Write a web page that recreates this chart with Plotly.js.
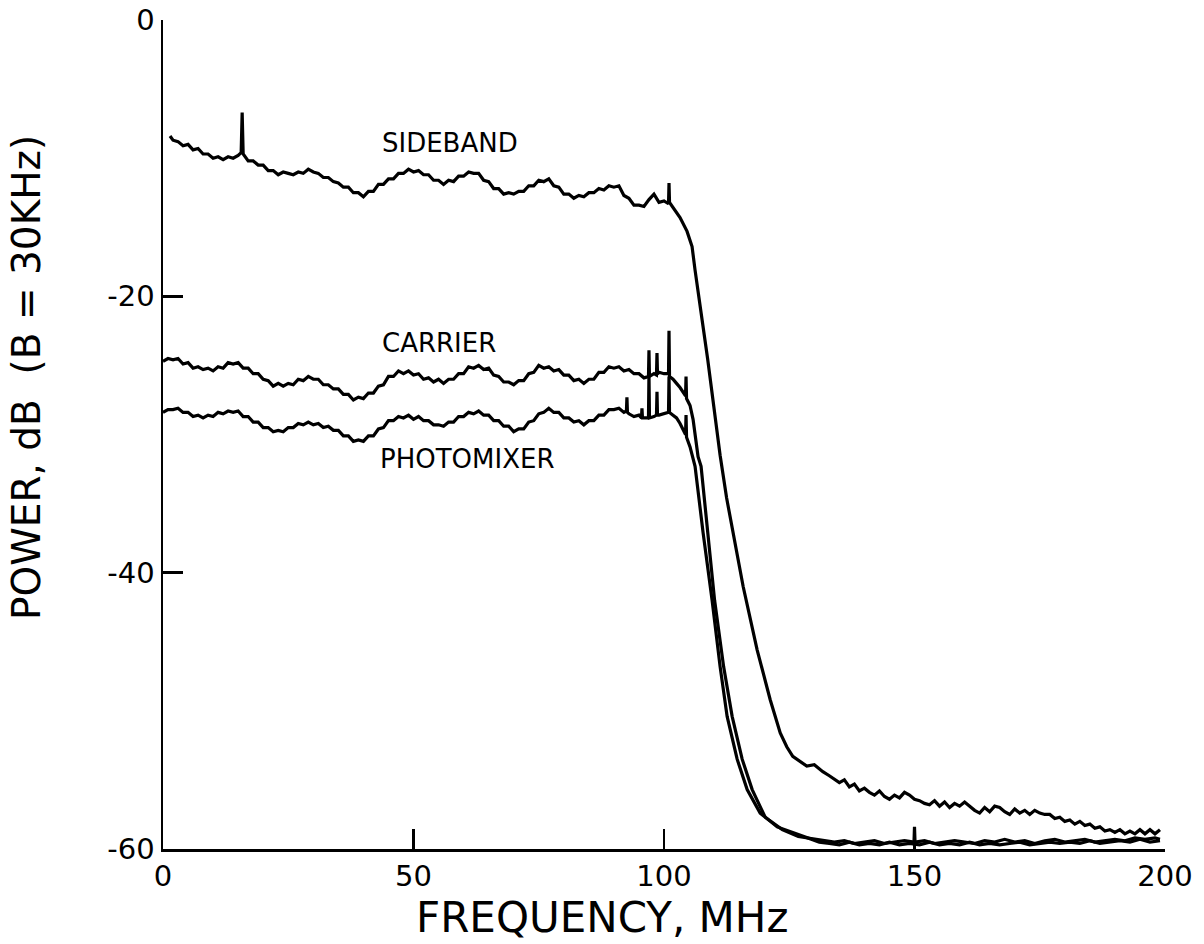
<!DOCTYPE html>
<html>
<head>
<meta charset="utf-8">
<script src="https://cdn.plot.ly/plotly-3.0.1.min.js"></script>
<style>html,body{margin:0;padding:0;background:#fff;}#chart{width:1204px;height:944px;}</style>
</head>
<body>
<div id="chart"></div>
<script>
// ---- Data ----
const sidebandFreq = [1.4,2,3,4,5,6,7,8,9,10,11,12,13,14,15,15.6,15.8,16.0,17,18,19,20,21,22,23,24,25,26,27,28,29,30,31,32,33,34,35,36,37,38,39,40,41,42,43,44,45,46,47,48,49,50,51,52,53,54,55,56,57,58,59,60,61,62,63,64,65,66,67,68,69,70,71,72,73,74,75,76,77,78,79,80,81,82,83,84,85,86,87,88,89,90,91,92,93,94,95,96,97,98,99,100,100.9,101.0,101.1,102,103.2,104.6,105.6,106.2,106.8,107.6,108.7,109.8,111.2,112.5,113.8,115.8,118.6,121.2,123.2,124.5,125.7,127,128.5,130,131.7,133,135,136,137,138,139,140,141,142,143,144,145,146,147,148,149,150,151,152,153,154,155,156,157,158,159,160,161,162,163,164,165,166,167,168,169,170,171,172,173,174,175,176,177,178,179,180,181,182,183,184,185,186,187,188,189,190,191,192,193,194,195,196,197,198,199];
const sidebandPower = [-8.4,-8.7,-8.8,-9.1,-9.0,-9.4,-9.3,-9.7,-9.7,-10.0,-9.9,-10.1,-9.9,-10.0,-9.8,-9.6,-6.7,-9.7,-10.2,-10.2,-10.5,-10.5,-10.9,-10.9,-11.2,-11.0,-11.1,-11.2,-11.0,-11.1,-10.8,-11.0,-11.1,-11.4,-11.4,-11.7,-11.8,-12.1,-12.1,-12.5,-12.5,-12.8,-12.4,-12.4,-11.9,-11.9,-11.5,-11.5,-11.1,-11.1,-10.8,-11.0,-10.9,-11.2,-11.2,-11.6,-11.6,-11.9,-11.6,-11.7,-11.3,-11.3,-11.0,-11.1,-11.1,-11.6,-11.7,-12.2,-12.2,-12.6,-12.5,-12.6,-12.4,-12.4,-12.0,-12.0,-11.6,-11.7,-11.5,-12.0,-12.1,-12.6,-12.6,-12.9,-12.7,-12.8,-12.5,-12.5,-12.2,-12.3,-12.0,-12.1,-12.0,-12.7,-12.9,-13.4,-13.4,-13.5,-13.0,-12.6,-13.2,-13.1,-13.3,-11.8,-13.2,-13.7,-14.3,-15.3,-16.4,-18.1,-19.8,-21.7,-24.5,-27.5,-31.5,-34.6,-37.1,-41.0,-45.6,-49.2,-51.6,-52.6,-53.3,-53.6,-54.0,-53.9,-54.4,-54.7,-55.2,-55.0,-55.5,-55.3,-55.8,-55.6,-55.9,-56.1,-55.8,-56.2,-56.4,-56.1,-56.3,-55.9,-56.1,-56.4,-56.5,-56.7,-56.8,-56.5,-56.9,-56.6,-57.0,-56.7,-56.9,-56.6,-56.9,-57.2,-57.4,-57.0,-57.3,-56.9,-57.0,-57.3,-57.5,-57.1,-57.4,-57.2,-57.5,-57.2,-57.4,-57.5,-57.5,-57.8,-57.7,-58.0,-57.9,-58.2,-58.0,-58.3,-58.2,-58.5,-58.4,-58.7,-58.6,-58.8,-58.6,-58.9,-58.7,-58.9,-58.6,-58.9,-58.6,-58.9,-58.6];

const carrierFreq = [0,1,2,3,4,5,6,7,8,9,10,11,12,13,14,15,16,17,18,19,20,21,22,23,24,25,26,27,28,29,30,31,32,33,34,35,36,37,38,39,40,41,42,43,44,45,46,47,48,49,50,51,52,53,54,55,56,57,58,59,60,61,62,63,64,65,66,67,68,69,70,71,72,73,74,75,76,77,78,79,80,81,82,83,84,85,86,87,88,89,90,91,92,93,94,95,96,96.9,97.0,97.1,98,98.5,98.6,98.7,99,100,100.9,101.0,101.1,101.8,102.5,103.2,104.3,104.4,104.5,105.2,105.8,106.8,107.4,108.8,110.1,111.9,113.6,115.6,117.6,120.2,123.6,126.8,130,132,134,136,138,140,142,144,146,148,149.9,150,150.1,152,154,156,158,160,162,164,166,168,170,172,174,176,178,180,182,184,186,188,190,192,194,196,198,199];
const carrierPower = [-24.7,-24.5,-24.6,-24.5,-24.9,-24.8,-25.2,-25.1,-25.3,-25.2,-25.4,-25.1,-25.2,-24.8,-24.9,-24.8,-25.2,-25.2,-25.6,-25.6,-26.0,-26.1,-26.5,-26.3,-26.5,-26.3,-26.4,-26.0,-26.1,-25.8,-26.0,-26.0,-26.4,-26.4,-26.7,-26.7,-27.1,-27.1,-27.5,-27.3,-27.4,-27.0,-27.0,-26.5,-26.4,-25.8,-25.8,-25.4,-25.6,-25.4,-25.7,-25.6,-26.0,-25.9,-26.2,-26.0,-26.3,-26.0,-26.0,-25.6,-25.6,-25.1,-25.2,-25.0,-25.3,-25.2,-25.7,-25.8,-26.2,-26.2,-26.4,-26.1,-26.1,-25.6,-25.5,-25.0,-25.2,-25.1,-25.4,-25.3,-25.7,-25.7,-26.1,-26.0,-26.3,-26.0,-26.0,-25.5,-25.5,-25.1,-25.2,-25.1,-25.4,-25.3,-25.6,-25.6,-25.9,-25.8,-23.9,-25.8,-25.6,-25.7,-24.1,-25.6,-25.5,-25.6,-25.6,-22.5,-25.8,-26.0,-26.3,-26.6,-27.2,-25.8,-27.4,-27.9,-28.9,-31.6,-32.3,-37.1,-42.0,-46.8,-50.4,-53.5,-55.7,-57.7,-58.6,-59.1,-59.3,-59.4,-59.5,-59.4,-59.6,-59.5,-59.4,-59.6,-59.5,-59.4,-59.5,-58.4,-59.5,-59.4,-59.6,-59.5,-59.4,-59.5,-59.6,-59.4,-59.5,-59.3,-59.5,-59.4,-59.6,-59.4,-59.3,-59.5,-59.4,-59.3,-59.5,-59.4,-59.3,-59.4,-59.2,-59.3,-59.2,-59.3];

const photomixerFreq = [0,1,2,3,4,5,6,7,8,9,10,11,12,13,14,15,16,17,18,19,20,21,22,23,24,25,26,27,28,29,30,31,32,33,34,35,36,37,38,39,40,41,42,43,44,45,46,47,48,49,50,51,52,53,54,55,56,57,58,59,60,61,62,63,64,65,66,67,68,69,70,71,72,73,74,75,76,77,78,79,80,81,82,83,84,85,86,87,88,89,90,91,92,92.5,92.6,92.7,93,94,95,95.5,95.6,95.7,96,96.9,97.0,97.1,98,98.5,98.6,98.7,99,100,100.9,101.0,101.1,101.8,102.5,103.2,103.8,104.3,104.4,104.5,105.2,106.2,107.8,109.6,111.2,112.6,114.6,116.6,119.2,122.6,125.7,128,131,133,135,137,139,141,143,145,147,149,151,153,155,157,159,161,163,165,167,169,171,173,175,177,179,181,183,185,187,189,191,193,195,197,199];
const photomixerPower = [-28.4,-28.2,-28.2,-28.1,-28.4,-28.4,-28.7,-28.6,-28.8,-28.6,-28.7,-28.4,-28.5,-28.3,-28.4,-28.3,-28.7,-28.7,-29.1,-29.1,-29.5,-29.5,-29.8,-29.7,-29.8,-29.5,-29.5,-29.2,-29.3,-29.1,-29.3,-29.2,-29.5,-29.4,-29.7,-29.7,-30.1,-30.1,-30.5,-30.4,-30.5,-30.1,-30.1,-29.6,-29.5,-29.0,-29.0,-28.7,-28.8,-28.6,-28.9,-28.7,-29.0,-29.0,-29.3,-29.3,-29.4,-29.1,-29.1,-28.7,-28.7,-28.4,-28.5,-28.3,-28.6,-28.6,-29.0,-29.0,-29.4,-29.4,-29.8,-29.6,-29.6,-29.1,-29.0,-28.5,-28.4,-28.1,-28.4,-28.4,-28.8,-28.8,-29.1,-29.0,-29.3,-29.0,-29.0,-28.6,-28.6,-28.2,-28.2,-28.1,-28.4,-28.3,-27.3,-28.4,-28.5,-28.7,-28.6,-28.8,-28.1,-28.8,-28.8,-28.8,-25.6,-28.8,-28.7,-28.6,-26.9,-28.6,-28.6,-28.5,-28.4,-25.8,-28.4,-28.6,-28.8,-29.2,-29.7,-30.0,-28.6,-30.2,-30.9,-32.3,-37.1,-42.0,-46.8,-50.4,-53.5,-55.7,-57.4,-58.4,-58.8,-59.1,-59.5,-59.6,-59.7,-59.5,-59.7,-59.6,-59.7,-59.5,-59.7,-59.6,-59.7,-59.5,-59.7,-59.6,-59.7,-59.5,-59.7,-59.6,-59.7,-59.6,-59.5,-59.7,-59.6,-59.5,-59.6,-59.5,-59.6,-59.4,-59.6,-59.5,-59.4,-59.5,-59.3,-59.5,-59.4];

const xTicks = [0, 50, 100, 150, 200];
const yTicks = [0, -20, -40, -60];
const curveLabels = ["SIDEBAND", "CARRIER", "PHOTOMIXER"];
const labelFreq = [43.3, 43.3, 42.9];
const labelPower = [-8.9, -23.4, -31.8];
const xTitle = "FREQUENCY, MHz";
const yTitle = "POWER, dB  (B = 30KHz)";

// ---- Plot ----
const lineStyle = {color: "#000", width: 3.2};
const traces = [
  {x: sidebandFreq, y: sidebandPower, name: "SIDEBAND", mode: "lines", line: lineStyle},
  {x: carrierFreq, y: carrierPower, name: "CARRIER", mode: "lines", line: lineStyle},
  {x: photomixerFreq, y: photomixerPower, name: "PHOTOMIXER", mode: "lines", line: lineStyle}
];

const fontFam = "DejaVu Sans, Liberation Sans, sans-serif";
const annotations = curveLabels.map((t, i) => ({
  text: t, x: labelFreq[i], y: labelPower[i], xref: "x", yref: "y",
  xanchor: "left", yanchor: "middle", showarrow: false,
  font: {family: fontFam, size: 26, color: "#000"}
}));
annotations.push({
  text: xTitle, xref: "paper", yref: "paper", x: 0.438, y: -0.083,
  xanchor: "center", yanchor: "middle", showarrow: false,
  font: {family: fontFam, size: 42, color: "#000"}
});
annotations.push({
  text: yTitle, xref: "paper", yref: "paper", x: -0.136, y: 0.569,
  xanchor: "center", yanchor: "middle", showarrow: false, textangle: -90,
  font: {family: fontFam, size: 39, color: "#000"}
});

const layout = {
  width: 1204, height: 944,
  margin: {l: 163, r: 39, t: 20, b: 95},
  paper_bgcolor: "#fff", plot_bgcolor: "#fff",
  showlegend: false,
  font: {family: fontFam, color: "#000"},
  xaxis: {
    range: [0, 200], tickvals: xTicks, ticktext: xTicks.map(String),
    ticks: "inside", ticklen: 20, tickwidth: 2.5, tickcolor: "#000",
    showline: true, linewidth: 2.5, linecolor: "#000",
    showgrid: false, zeroline: false,
    tickfont: {family: fontFam, size: 29, color: "#000"}
  },
  yaxis: {
    range: [-60, 0], tickvals: yTicks, ticktext: yTicks.map(String),
    ticks: "inside", ticklen: 20, tickwidth: 2.5, tickcolor: "#000",
    showline: true, linewidth: 2.5, linecolor: "#000",
    showgrid: false, zeroline: false,
    tickfont: {family: fontFam, size: 29, color: "#000"}
  },
  annotations: annotations
};

Plotly.newPlot("chart", traces, layout, {displayModeBar: false, staticPlot: true});
</script>
</body>
</html>
